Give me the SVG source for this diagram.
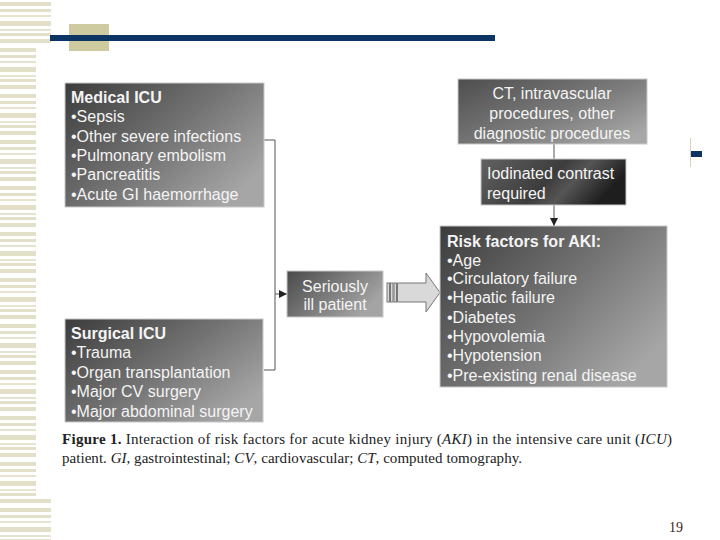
<svg xmlns="http://www.w3.org/2000/svg" width="720" height="540" viewBox="0 0 720 540">
<defs>
<style>
.t{font-family:"Liberation Sans",Arial,sans-serif;font-size:16px;fill:#f4f4f4}
.b{font-weight:bold}
.c{text-anchor:middle}
.cap{font-family:"Liberation Serif","Times New Roman",serif;font-size:15px;fill:#222}
.ln{stroke:#555;stroke-width:1;fill:none}
.bx{stroke:#c8c8c8;stroke-width:1}
</style>
<linearGradient id="gMain" x1="0" y1="0" x2="1" y2="0.7">
<stop offset="0" stop-color="#3c3c3c"/>
<stop offset="0.55" stop-color="#737373"/>
<stop offset="1" stop-color="#a6a6a6"/>
</linearGradient>
<linearGradient id="gCT" x1="0" y1="0" x2="1" y2="0.8">
<stop offset="0" stop-color="#4e4e4e"/>
<stop offset="0.6" stop-color="#7c7c7c"/>
<stop offset="1" stop-color="#a8a8a8"/>
</linearGradient>
<linearGradient id="gIod" x1="0" y1="0" x2="1" y2="0.3">
<stop offset="0" stop-color="#626262"/>
<stop offset="0.55" stop-color="#3c3c3c"/>
<stop offset="0.72" stop-color="#555"/>
<stop offset="1" stop-color="#1e1e1e"/>
</linearGradient>
<linearGradient id="gSer" x1="0" y1="0" x2="1" y2="0.5">
<stop offset="0" stop-color="#4a4a4a"/>
<stop offset="1" stop-color="#a4a4a4"/>
</linearGradient>
<pattern id="stripes" x="0" y="0" width="60" height="46" patternUnits="userSpaceOnUse">
<rect x="0" y="2" width="60" height="4" fill="#e2e0c8"/>
<rect x="0" y="9" width="60" height="3" fill="#e2e0c8"/>
<rect x="0" y="15" width="60" height="2" fill="#e6e4d0"/>
<rect x="0" y="21" width="60" height="5" fill="#e2e0c8"/>
<rect x="0" y="29" width="60" height="2" fill="#e6e4d0"/>
<rect x="0" y="33" width="60" height="3" fill="#e2e0c8"/>
<rect x="0" y="39" width="60" height="4" fill="#e2e0c8"/>
</pattern>
<marker id="ah" viewBox="0 0 10 10" refX="10" refY="5" markerWidth="8" markerHeight="8" markerUnits="userSpaceOnUse" orient="auto">
<path d="M0,0 L10,5 L0,10 z" fill="#222"/>
</marker>
</defs>
<rect width="720" height="540" fill="#ffffff"/>
<g id="decor">
<rect x="0" y="0" width="51" height="47" fill="url(#stripes)"/>
<rect x="0" y="47" width="36" height="450" fill="url(#stripes)"/>
<rect x="0" y="497" width="51" height="43" fill="url(#stripes)"/>
<rect x="69" y="24" width="40" height="27" fill="#cdcb9f"/>
<rect x="50" y="35" width="445" height="6" fill="#0d3563"/>
<rect x="690" y="138" width="1" height="29" fill="#d8d2b8"/>
<rect x="691" y="151" width="11" height="6" fill="#0d3563"/>
</g>
<g id="connectors">
<polyline class="ln" points="264,140 275,140 275,370 264,370"/>
<line class="ln" x1="275" y1="294" x2="287" y2="294" marker-end="url(#ah)"/>
<line class="ln" x1="554" y1="144" x2="554" y2="159"/>
<line class="ln" x1="554" y1="205" x2="554" y2="226" marker-end="url(#ah)"/>
<g id="blockArrow" fill="#d9d9d9" stroke="#777" stroke-width="1">
<rect x="387" y="283" width="2.5" height="19"/>
<rect x="390.5" y="283" width="2.5" height="19"/>
<rect x="394" y="283" width="2.5" height="19"/>
<path d="M397.5,283 L426,283 L426,273 L440,292.5 L426,312 L426,302 L397.5,302 Z"/>
</g>
</g>
<g id="medical">
<rect class="bx" x="65" y="83" width="199" height="124" fill="url(#gMain)"/>
<text class="t b" x="71" y="103">Medical ICU</text>
<text class="t" x="71" y="122">•Sepsis</text>
<text class="t" x="71" y="142">•Other severe infections</text>
<text class="t" x="71" y="161">•Pulmonary embolism</text>
<text class="t" x="71" y="180">•Pancreatitis</text>
<text class="t" x="71" y="200">•Acute GI haemorrhage</text>
</g>
<g id="surgical">
<rect class="bx" x="65" y="319" width="198" height="103" fill="url(#gMain)"/>
<text class="t b" x="71" y="339">Surgical ICU</text>
<text class="t" x="71" y="358">•Trauma</text>
<text class="t" x="71" y="378">•Organ transplantation</text>
<text class="t" x="71" y="397">•Major CV surgery</text>
<text class="t" x="71" y="417">•Major abdominal surgery</text>
</g>
<g id="serious">
<rect class="bx" x="287" y="271" width="96" height="46" fill="url(#gSer)"/>
<text class="t c" x="335" y="292">Seriously</text>
<text class="t c" x="335" y="310">ill patient</text>
</g>
<g id="ct">
<rect class="bx" x="458" y="79" width="189" height="65" fill="url(#gCT)"/>
<text class="t c" x="552" y="99">CT, intravascular</text>
<text class="t c" x="552" y="119">procedures, other</text>
<text class="t c" x="552" y="139">diagnostic procedures</text>
</g>
<g id="iodinated">
<rect class="bx" x="481" y="159" width="145" height="46" fill="url(#gIod)"/>
<text class="t" x="487" y="179">Iodinated contrast</text>
<text class="t" x="487" y="199">required</text>
</g>
<g id="risk">
<rect class="bx" x="440" y="226" width="227" height="161" fill="url(#gMain)"/>
<text class="t b" x="447" y="247">Risk factors for AKI:</text>
<text class="t" x="447" y="266">•Age</text>
<text class="t" x="447" y="284">•Circulatory failure</text>
<text class="t" x="447" y="303">•Hepatic failure</text>
<text class="t" x="447" y="323">•Diabetes</text>
<text class="t" x="447" y="342">•Hypovolemia</text>
<text class="t" x="447" y="361">•Hypotension</text>
<text class="t" x="447" y="381">•Pre-existing renal disease</text>
</g>
<g id="caption">
<text class="cap" x="62" y="444" textLength="610" lengthAdjust="spacing"><tspan font-weight="bold">Figure 1.</tspan> Interaction of risk factors for acute kidney injury (<tspan font-style="italic">AKI</tspan>) in the intensive care unit (<tspan font-style="italic">ICU</tspan>)</text>
<text class="cap" x="62" y="463" textLength="460" lengthAdjust="spacing">patient. <tspan font-style="italic">GI</tspan>, gastrointestinal; <tspan font-style="italic">CV</tspan>, cardiovascular; <tspan font-style="italic">CT</tspan>, computed tomography.</text>
</g>
<text x="669" y="532" font-family="Liberation Serif, serif" font-size="14" fill="#3a1c1c">19</text>
</svg>
